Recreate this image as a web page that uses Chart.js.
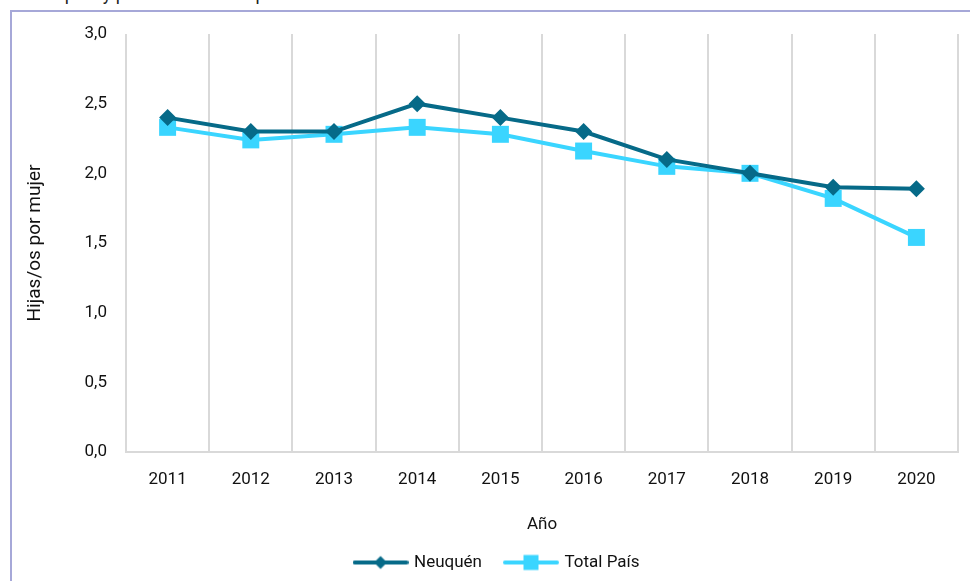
<!DOCTYPE html>
<html>
<head>
<meta charset="utf-8">
<script src="https://cdn.jsdelivr.net/npm/chart.js@4.4.1/dist/chart.umd.min.js"></script>
<style>
  html, body { margin: 0; padding: 0; background: #ffffff; }
  #wrap { position: relative; width: 970px; height: 581px; overflow: hidden; }
  #frame { position: absolute; left: 10px; top: 10px; width: 980px; height: 600px;
           border-left: 2px solid #a6a8d8; border-top: 2px solid #a6a8d8; box-sizing: border-box; }
  #cut { position: absolute; left: 20px; top: -17px; font-family: Roboto, sans-serif;
         font-size: 18px; color: #222; white-space: nowrap; }
  canvas { position: absolute; left: 0; top: 0; }
</style>
</head>
<body>
<div id="wrap">
  <div id="cut">Total país y provincia de Neuquén</div>
  <div id="frame"></div>
  <canvas id="c" width="970" height="581"></canvas>
</div>
<script>
const years = ["2011","2012","2013","2014","2015","2016","2017","2018","2019","2020"];
const neuquen = [2.40, 2.30, 2.30, 2.50, 2.40, 2.30, 2.10, 2.00, 1.90, 1.89];
const totalPais = [2.33, 2.24, 2.28, 2.33, 2.28, 2.16, 2.05, 2.00, 1.82, 1.54];
const yTicks = [0, 0.5, 1.0, 1.5, 2.0, 2.5, 3.0];

const FONT = 'Roboto, "Liberation Sans", sans-serif';
const DARK = '#066a88';
const LIGHT = '#3ad5ff';

function legendImg(color, kind) {
  const c = document.createElement('canvas');
  c.width = 56; c.height = 18;
  const g = c.getContext('2d');
  g.strokeStyle = color; g.lineWidth = 4; g.lineCap = 'round';
  g.beginPath(); g.moveTo(2, 9); g.lineTo(54, 9); g.stroke();
  g.fillStyle = color;
  if (kind === 'diamond') {
    g.beginPath(); g.moveTo(28, 2.5); g.lineTo(34.5, 9); g.lineTo(28, 15.5); g.lineTo(21.5, 9); g.closePath(); g.fill();
  } else {
    g.fillRect(20.5, 1.5, 15, 15);
  }
  return c;
}
const imgs = [legendImg(DARK, 'diamond'), legendImg(LIGHT, 'square')];

const legendShift = {
  id: 'legendShift',
  afterLayout(chart) {
    const l = chart.legend;
    if (l) { l.left += 18; l.right += 18; }
  }
};

new Chart(document.getElementById('c'), {
  type: 'line',
  data: {
    labels: years,
    datasets: [
      { label: 'Neuquén', data: neuquen, borderColor: DARK, backgroundColor: DARK,
        borderWidth: 4, pointStyle: 'rectRot', pointRadius: 8.5, pointHoverRadius: 8.5,
        pointBorderWidth: 0, tension: 0 },
      { label: 'Total País', data: totalPais, borderColor: LIGHT, backgroundColor: LIGHT,
        borderWidth: 4, pointStyle: 'rect', pointRadius: 12, pointHoverRadius: 12,
        pointBorderWidth: 0, tension: 0 }
    ]
  },
  plugins: [legendShift],
  options: {
    responsive: false,
    animation: false,
    layout: { padding: { left: 0, right: 11, top: 34, bottom: 0 } },
    plugins: {
      tooltip: { enabled: false },
      legend: {
        position: 'bottom',
        labels: {
          usePointStyle: true,
          pointStyleWidth: 50,
          padding: 24,
          color: '#111',
          font: { family: FONT, size: 17 },
          generateLabels(chart) {
            const items = Chart.defaults.plugins.legend.labels.generateLabels(chart);
            items.forEach((it, i) => { it.pointStyle = imgs[i]; });
            return items;
          }
        }
      }
    },
    scales: {
      x: {
        offset: true,
        afterFit(scale) { scale.height = 78; },
        grid: { display: true, offset: true, color: '#d9d9d9', lineWidth: 2, drawTicks: false },
        border: { display: true, color: '#d9d9d9', width: 2 },
        ticks: { color: '#111', font: { family: FONT, size: 17 }, padding: 18, maxRotation: 0 },
        title: { display: true, text: 'Año', color: '#111', font: { family: FONT, size: 17 }, padding: { top: 10, bottom: -5 } }
      },
      y: {
        min: 0, max: 3,
        afterFit(scale) { scale.width = 126; },
        afterBuildTicks(scale) { scale.ticks = yTicks.map(v => ({ value: v })); },
        grid: { display: false, drawTicks: false },
        border: { display: false },
        ticks: {
          color: '#111', font: { family: FONT, size: 17 }, padding: 19,
          callback: v => v.toFixed(1).replace('.', ',')
        },
        title: { display: true, text: 'Hijas/os por mujer', color: '#111', font: { family: FONT, size: 19 }, padding: { top: 24, bottom: 0 } }
      }
    }
  }
});
</script>
</body>
</html>
